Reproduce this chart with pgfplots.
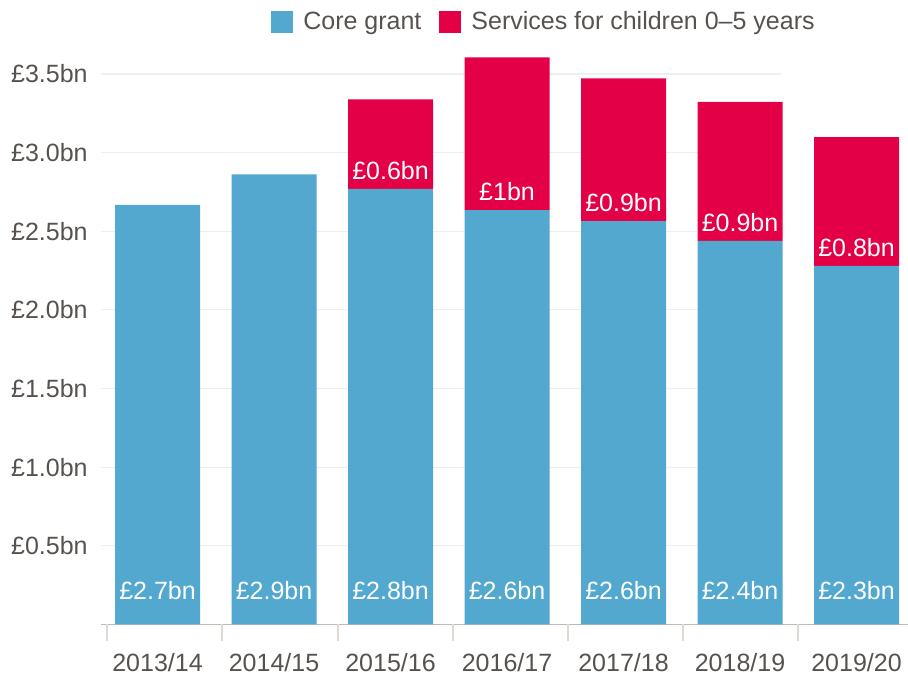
\documentclass[border=0pt]{standalone}
\usepackage{pgfplots}
\pgfplotsset{compat=1.18}
\usepackage{pgfplotstable}
\usepackage{fontspec}
\setmainfont{Liberation Sans}

\definecolor{coreblue}{HTML}{52A8CE}
\definecolor{servred}{HTML}{E40046}
\definecolor{txtgray}{HTML}{57524E}
\definecolor{gridgray}{HTML}{EFEFEF}
\definecolor{axisgray}{HTML}{BFBBB7}
\definecolor{sepgray}{HTML}{DDDAD6}

% values in £bn
\pgfplotstableread{
x core  serv  corelab servlab
0 2.667 0     £2.7bn  -
1 2.862 0     £2.9bn  -
2 2.770 0.569 £2.8bn  £0.6bn
3 2.635 0.971 £2.6bn  £1bn
4 2.565 0.907 £2.6bn  £0.9bn
5 2.439 0.883 £2.4bn  £0.9bn
6 2.280 0.819 £2.3bn  £0.8bn
}\grants

\begin{document}
\begin{tikzpicture}[font=\fontsize{12.5pt}{15pt}\selectfont]
% grid lines only (they stop short of the last bar)
\begin{axis}[
    at={(0,0)}, anchor=south west,
    scale only axis, width=340pt, height=291pt,
    xmin=0, xmax=1, ymin=0, ymax=3.7,
    xtick=\empty, ytick={0.5,1,1.5,2,2.5,3,3.5}, yticklabels={},
    ymajorgrids, major grid style={gridgray, line width=0.6pt},
    axis line style={draw=none}, major tick length=0pt,
]
\end{axis}
\begin{axis}[
    name=ax, at={(0,0)}, anchor=south west,
    scale only axis, width=403.5pt, height=291pt,
    xmin=-0.485, xmax=6.442, ymin=0, ymax=3.7,
    stack plots=y, stacked ignores zero,
    axis x line*=bottom, axis y line*=left,
    y axis line style={draw=none},
    x axis line style={axisgray, line width=0.75pt, -},
    xtick={0,...,6},
    xticklabels={2013/14,2014/15,2015/16,2016/17,2017/18,2018/19,2019/20},
    major tick length=0pt,
    extra x ticks={-0.433,0.554,1.549,2.536,3.524,4.511,5.498},
    extra x tick labels={},
    extra x tick style={tick align=outside, major tick length=8.5pt,
        tick style={sepgray, line width=0.6pt}},
    ytick={0.5,1,1.5,2,2.5,3,3.5},
    yticklabels={£0.5bn,£1.0bn,£1.5bn,£2.0bn,£2.5bn,£3.0bn,£3.5bn},
    tick label style={text=txtgray},
    yticklabel style={inner sep=0pt, xshift=-6.5pt},
    xticklabel style={inner sep=0pt, anchor=north, yshift=-14pt},
    legend columns=-1,
    legend style={draw=none, fill=none, at={(0.891,1)}, anchor=east,
        yshift=10.25pt, inner sep=0pt, text=txtgray,
        nodes={inner sep=2.5pt},
        /tikz/every odd column/.append style={column sep=2.5pt},
        /tikz/every even column/.append style={column sep=6.5pt}},
    legend image code/.code={\fill[#1] (0pt,-5.5pt) rectangle (11pt,5.5pt);},
]
\addplot[ybar, bar width=42.5pt, bar shift=0pt, fill=coreblue, draw=none]
    table[x=x, y=core] \grants;
\addplot[ybar, bar width=42.5pt, bar shift=0pt, fill=servred, draw=none]
    table[x=x, y=serv] \grants;
\legend{Core grant, Services for children 0–5 years}

\addplot[stack plots=false, forget plot, only marks, mark=none,
    nodes near coords, point meta=explicit symbolic,
    nodes near coords style={anchor=center, text=white, inner sep=0pt}]
    table[x=x, y expr=0.216, meta=corelab] \grants;
\addplot[stack plots=false, forget plot, only marks, mark=none,
    nodes near coords, point meta=explicit symbolic,
    skip coords between index={0}{2},
    nodes near coords style={anchor=center, text=white, inner sep=0pt}]
    table[x=x, y expr=\thisrow{core}+0.115, meta=servlab] \grants;
\end{axis}
\pgfresetboundingbox
\path ([xshift=-50.5pt, yshift=-26.25pt]ax.south west)
    rectangle ([yshift=21.25pt]ax.north east);
\end{tikzpicture}
\end{document}
